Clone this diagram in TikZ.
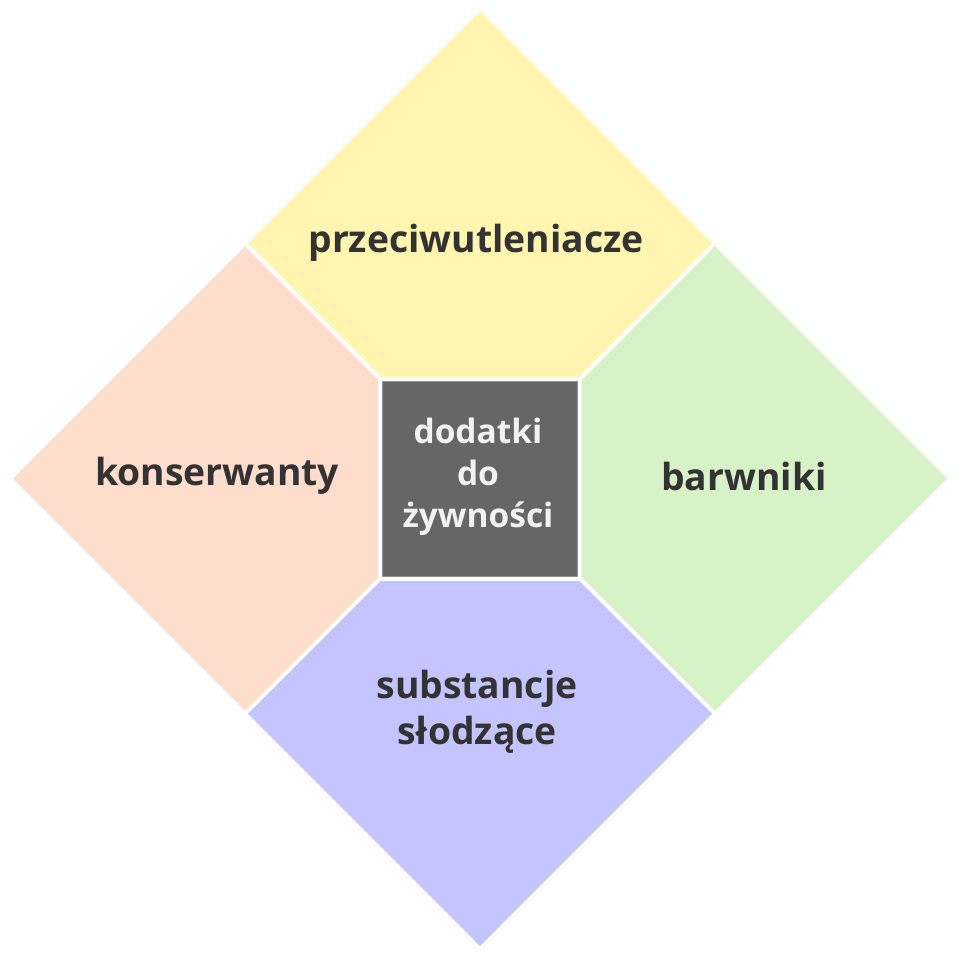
\documentclass[tikz,border=0pt]{standalone}
\usepackage{fontspec}
\setmainfont{Open Sans}
\definecolor{cyellow}{RGB}{255,244,176}
\definecolor{cpink}{RGB}{255,221,204}
\definecolor{cgreen}{RGB}{216,242,200}
\definecolor{cblue}{RGB}{196,196,255}
\definecolor{cgray}{RGB}{102,102,102}
\definecolor{cborder}{RGB}{150,150,150}
\definecolor{ctext}{RGB}{51,51,51}
\begin{document}
\begin{tikzpicture}[x=1pt,y=-1pt,
  label/.style={font=\fontsize{37.3}{46}\selectfont\bfseries, text=ctext, align=center, inner sep=0pt},
  centrelabel/.style={font=\fontsize{33.5}{42}\selectfont\bfseries, text=white!95!black, align=center, inner sep=0pt},
  sep/.style={draw=white, line width=4pt, line cap=round}]
\useasboundingbox (0,0) rectangle (960,958);
% outer vertices
\coordinate (T) at (480,11);
\coordinate (R) at (947,478.5);
\coordinate (B) at (480,946);
\coordinate (L) at (13,478.5);
% edge midpoints
\coordinate (TL) at (246.5,244.75);
\coordinate (TR) at (713.5,244.75);
\coordinate (BR) at (713.5,712.25);
\coordinate (BL) at (246.5,712.25);
% square corners
\coordinate (S1) at (380,378.5);
\coordinate (S2) at (580,378.5);
\coordinate (S3) at (580,578.5);
\coordinate (S4) at (380,578.5);
% pentagons
\fill[cyellow] (T) -- (TR) -- (S2) -- (S1) -- (TL) -- cycle;
\fill[cgreen] (TR) -- (R) -- (BR) -- (S3) -- (S2) -- cycle;
\fill[cblue] (S4) -- (S3) -- (BR) -- (B) -- (BL) -- cycle;
\fill[cpink] (TL) -- (S1) -- (S4) -- (BL) -- (L) -- cycle;
% separators
\draw[sep] (TL) -- (S1);
\draw[sep] (TR) -- (S2);
\draw[sep] (BR) -- (S3);
\draw[sep] (BL) -- (S4);
\draw[draw=white, line width=4pt] (S1) -- (S2) -- (S3) -- (S4) -- cycle;
% centre square
\draw[fill=cgray, draw=cborder, line width=1pt] (382.5,381) rectangle (577.5,576);
\node[centrelabel, anchor=base] (centre) at (478,527) {dodatki\\do\\żywności};
% labels
\node[label, anchor=base] (top) at (476,252) {przeciwutleniacze};
\node[label, anchor=base] (left) at (217,485) {konserwanty};
\node[label, anchor=base] (right) at (744,490) {barwniki};
\node[label, anchor=base] (bottom) at (477,744) {substancje\\słodzące};
\end{tikzpicture}
\end{document}
